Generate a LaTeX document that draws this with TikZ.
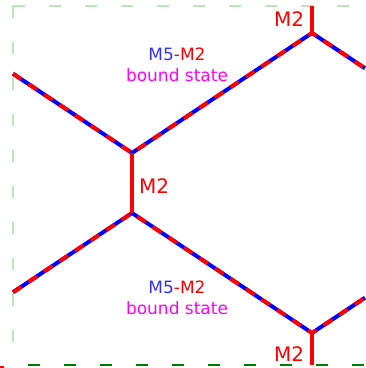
\documentclass[tikz,border=0pt]{standalone}
\usepackage{fontspec}
\setmainfont{DejaVu Sans}
\usetikzlibrary{positioning}
\definecolor{framelight}{RGB}{190,228,190}
\definecolor{framedark}{RGB}{0,128,0}
\definecolor{mred}{RGB}{255,0,0}
\definecolor{mblue}{RGB}{0,0,255}
\definecolor{mtextblue}{RGB}{50,50,255}
\definecolor{mmag}{RGB}{255,0,255}

\begin{document}
\begin{tikzpicture}[x=0.75pt, y=-0.75pt,
  mixed/.style={draw=mred, line width=3pt, dash pattern=on 7.5pt off 6.5pt, preaction={draw=mblue, solid, line width=3pt}},
  brane/.style={draw=mred, line width=3pt},
  edgelight/.style={draw=framelight, line width=0.8pt, dash pattern=on 9pt off 18pt},
  edgedark/.style={draw=framedark, line width=1.8pt, dash pattern=on 9pt off 18pt},
  mlabel/.style={text=mred, font=\fontsize{15}{18}\selectfont, inner sep=0pt},
  statelabel/.style={align=center, font=\fontsize{12.75}{15.5}\selectfont, inner sep=0pt}]
  \useasboundingbox (0,0) rectangle (365,368);

  % vertices
  \coordinate (top) at (312,33);
  \coordinate (upper) at (132,153);
  \coordinate (lower) at (132,213);
  \coordinate (bottom) at (312,333);

  % free ends
  \coordinate (topend) at (312,6);
  \coordinate (botend) at (312,365);
  \coordinate (leftup) at (13,73.7);
  \coordinate (leftdown) at (13,292.3);
  \coordinate (rightup) at (365,68.3);
  \coordinate (rightdown) at (365,297.7);

  % frame
  \coordinate (fa) at (13,6);
  \coordinate (fb) at (365,6);
  \coordinate (fc) at (13,360);
  \coordinate (fd) at (28,365);
  \coordinate (fe) at (365,365);
  \coordinate (ff) at (0,367);
  \coordinate (fg) at (4,367);
  \draw[edgelight] (fa) -- (fb);
  \draw[edgelight] (fa) -- (fc);
  \draw[edgedark] (fd) -- (fe);
  \draw[mred, line width=1pt] (ff) -- (fg);

  % bound states
  \draw[mixed] (leftup) -- (upper) -- (top) -- (rightup);
  \draw[mixed] (leftdown) -- (lower) -- (bottom) -- (rightdown);

  % M2 branes
  \draw[brane] (topend) -- (top);
  \draw[brane] (upper) -- (lower);
  \draw[brane] (bottom) -- (botend);

  \node[mlabel] (m2top) at (289,19) {M2};
  \node[mlabel] (m2mid) at (154,186) {M2};
  \node[mlabel] (m2bot) at (289,354) {M2};

  \node[statelabel] (stateup) at (177,65) {{\color{mtextblue}M5}{\color{mred}-M2}\\{\color{mmag}bound state}};
  \node[statelabel] (statedown) at (177,298) {{\color{mtextblue}M5}{\color{mred}-M2}\\{\color{mmag}bound state}};
\end{tikzpicture}
\end{document}
